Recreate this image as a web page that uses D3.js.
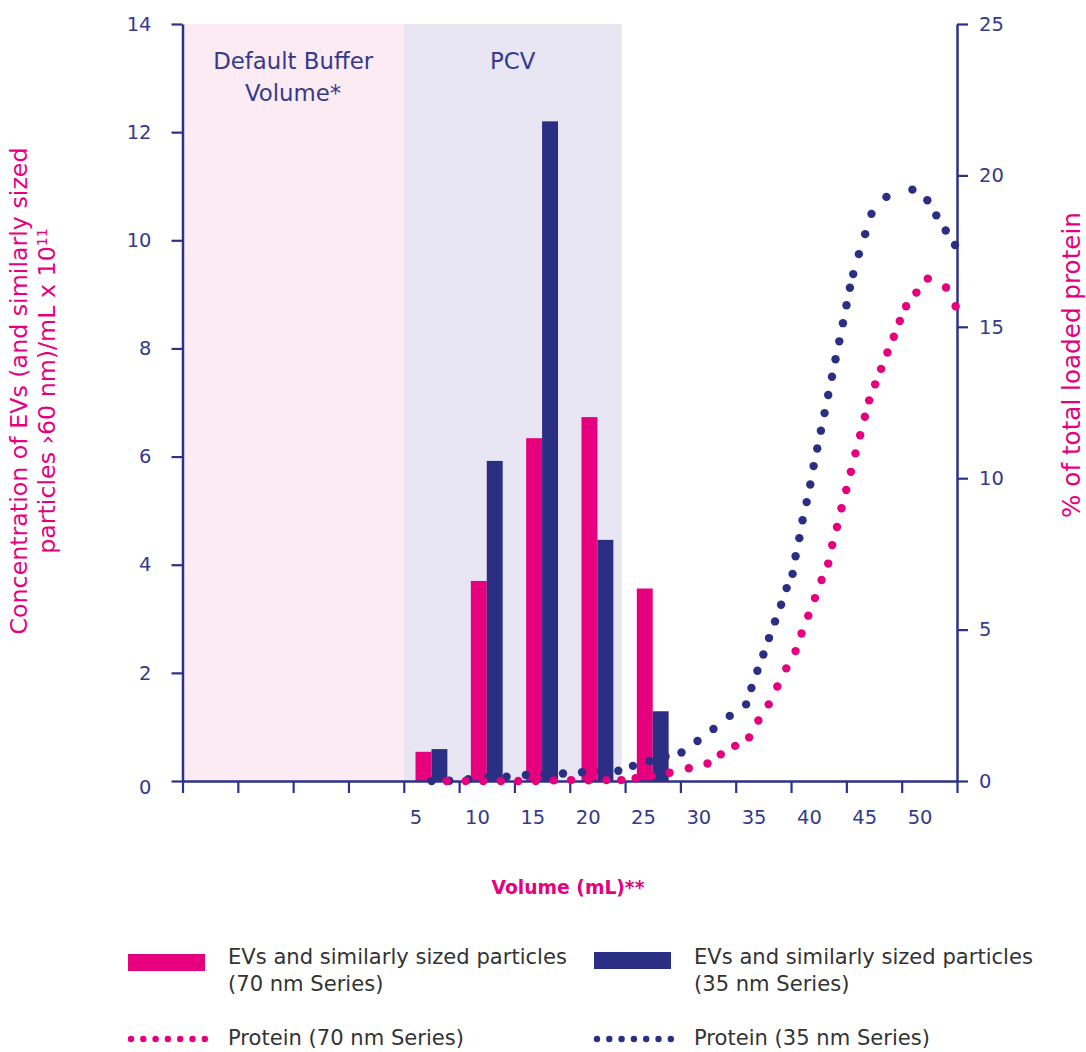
<!DOCTYPE html>
<html><head><meta charset="utf-8">
<script src="https://cdn.jsdelivr.net/npm/d3@7"></script>
<style>
html,body{margin:0;padding:0;background:#fff;}
svg{display:block;}
</style></head>
<body>
<svg id="chart" width="1086" height="1052"></svg>
<script>
// ---------- data ----------
const fractionMid = [7.5, 12.5, 17.5, 22.5, 27.5];           // mL, middle of each 5 mL fraction
const ev70 = [0.54, 3.70, 6.34, 6.73, 3.56];                  // x10^11 /mL
const ev35 = [0.59, 5.92, 12.20, 4.46, 1.29];

const protein35Vol = [7.52, 9.11, 10.83, 12.63, 14.29, 16.03, 17.74, 19.39, 21.11, 22.82, 24.39, 25.71, 27.22, 28.66, 30.10, 31.55, 32.99, 34.46, 35.94, 36.42, 36.96, 37.50, 38.01, 38.55, 39.10, 39.60, 40.14, 40.41, 40.75, 41.04, 41.41, 41.74, 42.04, 42.37, 42.70, 43.03, 43.36, 43.70, 44.02, 44.36, 44.69, 45.01, 45.32, 45.62, 46.13, 46.70, 47.27, 48.62, 50.97, 52.32, 53.13, 53.98, 54.82];
const protein35Pct = [0, 0.01, 0.06, 0.12, 0.14, 0.20, 0.22, 0.25, 0.29, 0.32, 0.34, 0.50, 0.66, 0.81, 0.94, 1.32, 1.72, 2.15, 2.53, 3.07, 3.64, 4.18, 4.72, 5.27, 5.82, 6.37, 6.84, 7.42, 8.02, 8.61, 9.21, 9.79, 10.40, 10.98, 11.57, 12.15, 12.75, 13.35, 13.93, 14.52, 15.12, 15.71, 16.29, 16.74, 17.40, 18.06, 18.73, 19.29, 19.53, 19.18, 18.68, 18.18, 17.70];

const protein70Vol = [8.88, 10.59, 12.18, 13.77, 15.34, 16.93, 18.56, 20.12, 21.71, 23.31, 24.66, 25.95, 27.42, 29.02, 30.76, 32.45, 33.65, 34.95, 36.21, 37.05, 37.98, 38.76, 39.57, 40.41, 40.95, 41.56, 42.16, 42.76, 43.36, 43.72, 44.15, 44.56, 44.99, 45.41, 45.82, 46.25, 46.67, 47.06, 47.60, 48.14, 48.71, 49.29, 49.83, 50.40, 51.33, 52.36, 54.01, 54.88];
const protein70Pct = [0, 0, 0, 0, 0, 0, 0.02, 0.03, 0.02, 0.03, 0.03, 0.09, 0.17, 0.27, 0.42, 0.58, 0.88, 1.16, 1.44, 2.00, 2.53, 3.12, 3.72, 4.29, 4.87, 5.46, 6.04, 6.64, 7.18, 7.79, 8.39, 9.01, 9.61, 10.21, 10.82, 11.42, 12.03, 12.57, 13.10, 13.61, 14.15, 14.67, 15.19, 15.68, 16.13, 16.59, 16.30, 15.68];

const xTickVals = [-15, -10, -5, 0, 5, 10, 15, 20, 25, 30, 35, 40, 45, 50, 55];
const xLabelVals = [5, 10, 15, 20, 25, 30, 35, 40, 45, 50];
const yLeftTicks = [0, 2, 4, 6, 8, 10, 12, 14];
const yRightTicks = [0, 5, 10, 15, 20, 25];

const regions = [
  {from: -15, to: 5, label: ["Default Buffer", "Volume*"], fill: "#fcebf3"},
  {from: 5, to: 24.7, label: ["PCV"], fill: "#e8e6f3"}
];

const legendItems = [
  {type: "bar", color: "#e6007e", lines: ["EVs and similarly sized particles", "(70 nm Series)"]},
  {type: "bar", color: "#2b2f84", lines: ["EVs and similarly sized particles", "(35 nm Series)"]},
  {type: "dots", color: "#e6007e", lines: ["Protein (70 nm Series)"]},
  {type: "dots", color: "#2b2f84", lines: ["Protein (35 nm Series)"]}
];

// ---------- style ----------
const PINK = "#e6007e", NAVY = "#2b2f84", AXIS = "#2e3189", TXT = "#353a8c";
const FONT = "'DejaVu Sans', 'Noto Sans', sans-serif";
const TICKFS = 19.5;

function fit(sel, target) {
  const n = sel.node();
  const fs = parseFloat(sel.attr("font-size"));
  const w = n.getComputedTextLength();
  if (w > 0) sel.attr("font-size", (fs * target / w).toFixed(2));
  return +sel.attr("font-size");
}

const svg = d3.select("#chart");
const L = 182.5, R = 957, T = 24, B = 781;
const x = d3.scaleLinear().domain([-15, 55]).range([L, R]);
const yL = d3.scaleLinear().domain([0, 14]).range([B, T]);
const yR = d3.scaleLinear().domain([0, 25]).range([B, T]);

// background regions
const reg = svg.append("g");
let regFS = null;
regions.forEach(r => {
  reg.append("rect").attr("x", x(r.from)).attr("y", T).attr("width", x(r.to) - x(r.from)).attr("height", B - T).attr("fill", r.fill);
});
regions.forEach(r => {
  const cx = (x(r.from) + x(r.to)) / 2;
  r.label.forEach((t, i) => {
    const tt = reg.append("text").attr("x", cx).attr("y", 69 + i * 32).attr("text-anchor", "middle")
      .attr("font-family", FONT).attr("font-size", 19).attr("fill", TXT).text(t);
    if (regFS === null) regFS = fit(tt, 160); else tt.attr("font-size", regFS);
  });
});

// bars
const barW = 1.44;
const bars = svg.append("g");
fractionMid.forEach((m, i) => {
  bars.append("rect").attr("x", x(m - barW)).attr("width", x(m) - x(m - barW))
    .attr("y", yL(ev70[i])).attr("height", B - yL(ev70[i])).attr("fill", PINK);
  bars.append("rect").attr("x", x(m)).attr("width", x(m + barW) - x(m))
    .attr("y", yL(ev35[i])).attr("height", B - yL(ev35[i])).attr("fill", NAVY);
});

// axes
function styleAxis(g) {
  g.selectAll("path.domain").attr("stroke", AXIS).attr("stroke-width", 2.5);
  g.selectAll(".tick line").attr("stroke", AXIS).attr("stroke-width", 2.2);
  g.selectAll(".tick text").attr("font-family", FONT).attr("font-size", TICKFS).attr("fill", TXT);
}
const gL = svg.append("g").attr("transform", `translate(${L},0)`)
  .call(d3.axisLeft(yL).tickValues(yLeftTicks).tickSize(11).tickSizeOuter(0).tickPadding(20));
styleAxis(gL);
gL.selectAll(".tick text").filter(d => d === 0).attr("dy", "0.65em");

const gR = svg.append("g").attr("transform", `translate(${R},0)`)
  .call(d3.axisRight(yR).tickValues(yRightTicks).tickSize(11).tickSizeOuter(0).tickPadding(11));
styleAxis(gR);

const gB = svg.append("g").attr("transform", `translate(0,${B})`)
  .call(d3.axisBottom(x).tickValues(xTickVals).tickSize(12).tickSizeOuter(0).tickFormat(""));
styleAxis(gB);
gB.selectAll(".xlab").data(xLabelVals).join("text").attr("class", "xlab")
  .attr("x", d => x(d) + 6).attr("y", 43).attr("text-anchor", "start")
  .attr("font-family", FONT).attr("font-size", TICKFS).attr("fill", TXT).text(d => d);

// protein dots
const dots = svg.append("g");
function dotSeries(vols, pcts, color) {
  dots.append("g").selectAll("circle").data(vols.map((v, i) => [v, pcts[i]])).join("circle")
    .attr("cx", d => x(d[0])).attr("cy", d => yR(d[1])).attr("r", 4.2).attr("fill", color);
}
dotSeries(protein35Vol, protein35Pct, NAVY);
dotSeries(protein70Vol, protein70Pct, PINK);

// axis titles
const t1 = svg.append("text").attr("transform", "translate(27,391) rotate(-90)")
  .attr("text-anchor", "middle").attr("font-family", FONT).attr("font-size", 20).attr("fill", PINK);
t1.append("tspan").attr("x", 0).attr("y", 0).text("Concentration of EVs (and similarly sized");
const w1 = t1.node().getComputedTextLength();
const t1fs = 20 * 487 / w1;
t1.attr("font-size", t1fs.toFixed(2));
t1.append("tspan").attr("x", 0).attr("y", 28).text("particles \u203A60 nm)/mL x 10");
t1.append("tspan").attr("dy", -8).attr("font-size", (t1fs * 0.6).toFixed(2)).text("11");

const tR = svg.append("text").attr("transform", "translate(1080,365) rotate(-90)")
  .attr("text-anchor", "middle").attr("font-family", FONT).attr("font-size", 20).attr("fill", PINK)
  .text("% of total loaded protein");
fit(tR, 306);

const tX = svg.append("text").attr("x", 568).attr("y", 894).attr("text-anchor", "middle")
  .attr("font-family", FONT).attr("font-size", 20).attr("font-weight", 600).attr("fill", PINK)
  .text("Volume (mL)**");
fit(tX, 153);

// legend
const legPos = [{x: 128, y: 954}, {x: 594, y: 952}, {x: 128, y: 1039}, {x: 594, y: 1039}];
const leg = svg.append("g");
let legFS = null;
legendItems.forEach((it, i) => {
  const p = legPos[i];
  if (it.type === "bar") {
    leg.append("rect").attr("x", p.x).attr("y", p.y).attr("width", 77).attr("height", 17).attr("fill", it.color);
  } else {
    leg.append("g").selectAll("circle").data(d3.range(7)).join("circle")
      .attr("cx", k => p.x + 3 + k * 12.3).attr("cy", p.y).attr("r", 3.2).attr("fill", it.color);
  }
  const tx = p.x + 100;
  const ty = it.type === "bar" ? 964 : 1045;
  it.lines.forEach((s, j) => {
    const tt = leg.append("text").attr("x", tx).attr("y", ty + j * 27).attr("font-family", FONT)
      .attr("font-size", 18).attr("fill", "#333").text(s);
    if (legFS === null) legFS = fit(tt, 339); else tt.attr("font-size", legFS);
  });
});
</script>
</body></html>
